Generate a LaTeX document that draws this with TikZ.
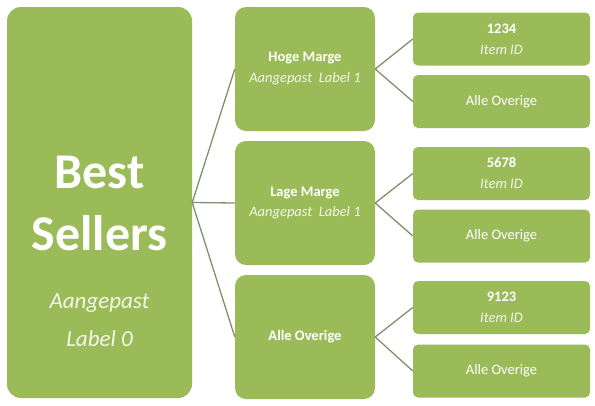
\documentclass[tikz,border=0pt]{standalone}
\usepackage{fontspec}
\setmainfont{Carlito}
\definecolor{boxgreen}{RGB}{155,187,89}
\definecolor{linkgreen}{RGB}{130,144,104}
\definecolor{softwhite}{RGB}{242,247,233}
\begin{document}
\begin{tikzpicture}[x=1pt,y=-1pt,
    bigbox/.style={fill=boxgreen,rounded corners=14pt,minimum width=185pt,minimum height=391pt},
    midbox/.style={fill=boxgreen,rounded corners=11pt,minimum width=140pt,minimum height=124pt,
      text=white,align=center,font=\fontsize{14.5}{17}\selectfont},
    leafbox/.style={fill=boxgreen,rounded corners=5pt,minimum width=177pt,minimum height=53pt,
      text=white,align=center,font=\fontsize{14.5}{17}\selectfont},
    bigtext/.style={anchor=base,text=white,font=\fontsize{50}{60}\selectfont\bfseries},
    subtext/.style={anchor=base,text=softwhite,font=\fontsize{23}{28}\selectfont\itshape},
    link/.style={draw=linkgreen,line width=1.3pt}]
    \tikzstyle{every node}+=[inner sep=0pt]
    \useasboundingbox (0,0) rectangle (595,405);
    % root
    \node [bigbox] (best) at (99.5,202.5) {};
    \node [bigtext] (bestA) at (99.5,188) {Best};
    \node [bigtext] (bestB) at (99.5,250) {Sellers};
    \node [subtext] (bestC) at (99.5,308) {Aangepast};
    \node [subtext] (bestD) at (99.5,346) {Label 0};
    % second level
    \node [midbox] (hoge) at (305,69) {\textbf{Hoge Marge}\\[4pt]\textcolor{softwhite}{\itshape Aangepast\ \ Label 1}};
    \node [midbox] (lage) at (305,203) {\textbf{Lage Marge}\\[3pt]\textcolor{softwhite}{\itshape Aangepast\ \ Label 1}};
    \node [midbox] (rest) at (305,337) {\textbf{Alle Overige}};
    % leaves
    \node [leafbox] (item1) at (501.5,39) {\textbf{1234}\\[4pt]\textcolor{softwhite}{\itshape Item ID}};
    \node [leafbox] (rest1) at (501.5,101.5) {Alle Overige};
    \node [leafbox] (item2) at (501.5,173.5) {\textbf{5678}\\[4pt]\textcolor{softwhite}{\itshape Item ID}};
    \node [leafbox] (rest2) at (501.5,236) {Alle Overige};
    \node [leafbox] (item3) at (501.5,307.5) {\textbf{9123}\\[4pt]\textcolor{softwhite}{\itshape Item ID}};
    \node [leafbox] (rest3) at (501.5,371) {Alle Overige};
    % connectors
    \draw [link] (best.east) -- (hoge.west);
    \draw [link] (best.east) -- (lage.west);
    \draw [link] (best.east) -- (rest.west);
    \draw [link] (hoge.east) -- (item1.west);
    \draw [link] (hoge.east) -- (rest1.west);
    \draw [link] (lage.east) -- (item2.west);
    \draw [link] (lage.east) -- (rest2.west);
    \draw [link] (rest.east) -- (item3.west);
    \draw [link] (rest.east) -- (rest3.west);
\end{tikzpicture}
\end{document}
